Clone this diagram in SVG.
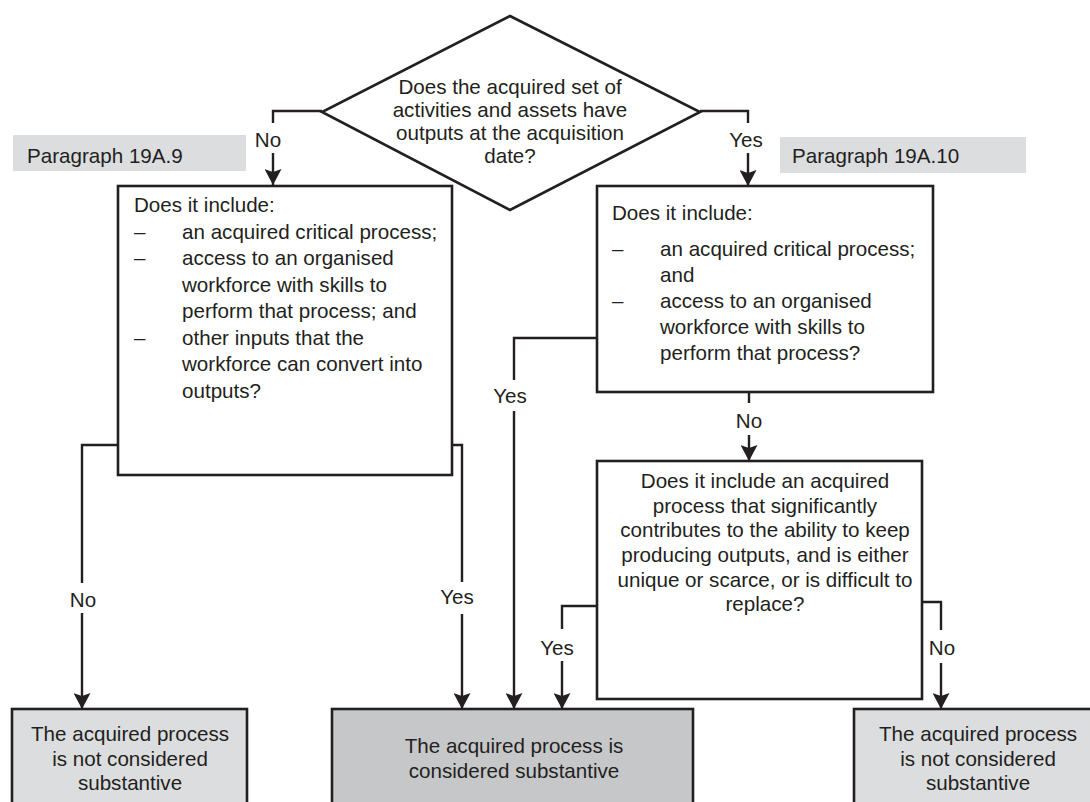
<svg xmlns="http://www.w3.org/2000/svg" width="1090" height="802" viewBox="0 0 1090 802">
<style>
text{font-family:"Liberation Sans",Arial,sans-serif;font-size:20.6px;fill:#231f20}
.c{text-anchor:middle}
.box{fill:#fff;stroke:#231f20;stroke-width:2.6}
.lt{fill:#dcdddf;stroke:#231f20;stroke-width:2.6}
.dk{fill:#c6c7c9;stroke:#231f20;stroke-width:2.6}
.tag{fill:#dcdddf;stroke:none}
.ln{fill:none;stroke:#231f20;stroke-width:2.4}
</style>
<defs>
<marker id="ah" viewBox="0 0 16 17" refX="16" refY="8.5" markerWidth="16" markerHeight="17" orient="auto" markerUnits="userSpaceOnUse">
<path d="M0,0 L16,8.5 L0,17 L3,8.5 z" fill="#231f20"/>
</marker>
</defs>
<rect width="1090" height="802" fill="#fff"/>

<g id="tag-19A9">
<rect class="tag" x="13" y="135" width="233" height="36"/>
<text x="27" y="163">Paragraph 19A.9</text>
</g>
<g id="tag-19A10">
<rect class="tag" x="780" y="137" width="246" height="36"/>
<text x="792" y="163">Paragraph 19A.10</text>
</g>

<g id="connectors">
<path class="ln" d="M322,111 H273 V123"/>
<path class="ln" d="M273,153 V185" marker-end="url(#ah)"/>
<path class="ln" d="M700,111 H748 V123"/>
<path class="ln" d="M748,153 V186" marker-end="url(#ah)"/>
<path class="ln" d="M118,445 H82 V583"/>
<path class="ln" d="M82,613 V709" marker-end="url(#ah)"/>
<path class="ln" d="M452,445 H462 V582"/>
<path class="ln" d="M462,614 V709" marker-end="url(#ah)"/>
<path class="ln" d="M597,338 H514 V380"/>
<path class="ln" d="M514,411 V709" marker-end="url(#ah)"/>
<path class="ln" d="M749,392 V403"/>
<path class="ln" d="M749,435 V461" marker-end="url(#ah)"/>
<path class="ln" d="M597,606 H562 V629"/>
<path class="ln" d="M562,661 V709" marker-end="url(#ah)"/>
<path class="ln" d="M922,602 H941 V630"/>
<path class="ln" d="M941,663 V709" marker-end="url(#ah)"/>
<text class="c" x="268" y="147">No</text>
<text class="c" x="746" y="147">Yes</text>
<text class="c" x="83" y="607">No</text>
<text class="c" x="457" y="604">Yes</text>
<text class="c" x="510" y="403">Yes</text>
<text class="c" x="749" y="428">No</text>
<text class="c" x="557" y="655">Yes</text>
<text class="c" x="942" y="655">No</text>
</g>

<g id="decision-outputs">
<polygon class="box" points="510,16 700,112 510,210 322,112"/>
<text class="c" x="510" y="94">Does the acquired set of</text>
<text class="c" x="510" y="117">activities and assets have</text>
<text class="c" x="510" y="140">outputs at the acquisition</text>
<text class="c" x="510" y="163">date?</text>
</g>

<g id="decision-19A9">
<rect class="box" x="118" y="186" width="334" height="289"/>
<text x="134" y="212">Does it include:</text>
<text x="134" y="239">–</text><text x="182" y="239">an acquired critical process;</text>
<text x="134" y="265">–</text><text x="182" y="265">access to an organised</text>
<text x="182" y="292">workforce with skills to</text>
<text x="182" y="318">perform that process; and</text>
<text x="134" y="345">–</text><text x="182" y="345">other inputs that the</text>
<text x="182" y="371">workforce can convert into</text>
<text x="182" y="398">outputs?</text>
</g>

<g id="decision-19A10">
<rect class="box" x="597" y="186" width="336" height="206"/>
<text x="612" y="220">Does it include:</text>
<text x="612" y="256">–</text><text x="660" y="256">an acquired critical process;</text>
<text x="660" y="282">and</text>
<text x="612" y="308">–</text><text x="660" y="308">access to an organised</text>
<text x="660" y="334">workforce with skills to</text>
<text x="660" y="360">perform that process?</text>
</g>

<g id="decision-unique">
<rect class="box" x="597" y="461" width="325" height="238"/>
<text class="c" x="765" y="488">Does it include an acquired</text>
<text class="c" x="765" y="513">process that significantly</text>
<text class="c" x="765" y="537">contributes to the ability to keep</text>
<text class="c" x="765" y="562">producing outputs, and is either</text>
<text class="c" x="765" y="587">unique or scarce, or is difficult to</text>
<text class="c" x="765" y="611">replace?</text>
</g>

<g id="result-not-left">
<rect class="lt" x="12" y="709" width="235" height="110"/>
<text class="c" x="130" y="741">The acquired process</text>
<text class="c" x="130" y="766">is not considered</text>
<text class="c" x="130" y="790">substantive</text>
</g>

<g id="result-substantive">
<rect class="dk" x="332" y="709" width="361" height="110"/>
<text class="c" x="514" y="753">The acquired process is</text>
<text class="c" x="514" y="778">considered substantive</text>
</g>

<g id="result-not-right">
<rect class="lt" x="854" y="709" width="260" height="110"/>
<text class="c" x="978" y="741">The acquired process</text>
<text class="c" x="978" y="766">is not considered</text>
<text class="c" x="978" y="790">substantive</text>
</g>
</svg>
